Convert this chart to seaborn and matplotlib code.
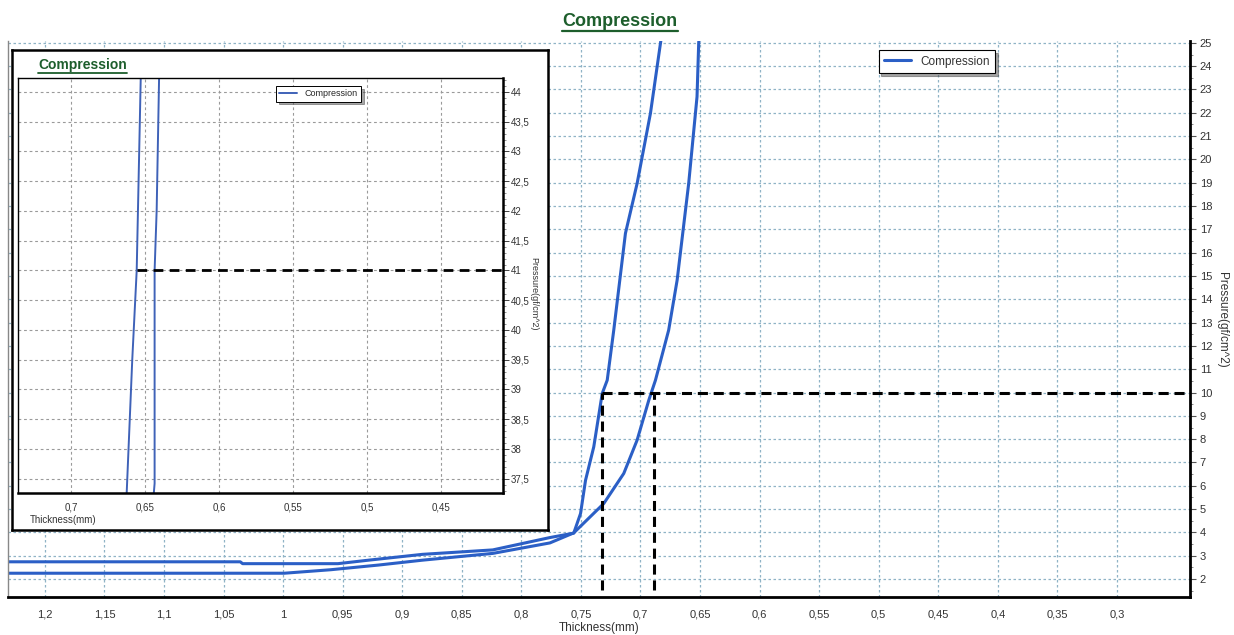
import numpy as np
import pandas as pd
import matplotlib
matplotlib.use("Agg")
import matplotlib.pyplot as plt
import seaborn as sns
from matplotlib.ticker import MultipleLocator, FixedLocator, FuncFormatter
from matplotlib.lines import Line2D

# ---------------- data ----------------
title = "Compression"
series_label = "Compression"
x_label = "Thickness(mm)"
y_label = "Pressure(gf/cm^2)"

# main chart: two branches of the compression curve (thickness mm, pressure gf/cm^2)
curve1_t = [1.235, 1.036, 1.034, 0.954, 0.930, 0.883, 0.824, 0.776, 0.756, 0.7503,
            0.7461, 0.7392, 0.7321, 0.7279, 0.7224, 0.7126, 0.7028, 0.6916, 0.6832, 0.680]
curve1_p = [2.74, 2.74, 2.66, 2.66, 2.80, 3.06, 3.25, 3.78, 3.97, 4.81,
            6.24, 7.67, 9.96, 10.53, 12.68, 16.83, 18.97, 21.98, 24.98, 26.0]
curve2_t = [1.235, 0.999, 0.960, 0.920, 0.883, 0.824, 0.776, 0.756, 0.7308, 0.714,
            0.7028, 0.693, 0.6874, 0.6763, 0.6692, 0.6595, 0.6525, 0.6511, 0.650]
curve2_p = [2.25, 2.25, 2.40, 2.60, 2.81, 3.10, 3.55, 3.98, 5.24, 6.53,
            7.96, 9.67, 10.53, 12.68, 14.82, 18.97, 22.69, 24.98, 26.0]

# tick values shown on the main chart
main_xticks = [1.2, 1.15, 1.1, 1.05, 1.0, 0.95, 0.9, 0.85, 0.8, 0.75, 0.7, 0.65,
               0.6, 0.55, 0.5, 0.45, 0.4, 0.35, 0.3]

# guide (dashed) lines on main chart
guide_p = 10.0
guide_t_left = 0.7321
guide_t_right = 0.6888
guide_p_bottom = 1.52

# inset (zoomed) chart
inset1_t = [0.6628, 0.6624, 0.6586, 0.6556, 0.6529, 0.6526]
inset1_p = [37.0, 37.24, 39.5, 41.0, 44.2, 44.5]
inset2_t = [0.6449, 0.6435, 0.6435, 0.6421, 0.6405, 0.6403]
inset2_p = [37.0, 37.42, 41.0, 42.02, 44.2, 44.5]
inset_guide_p = 41.0
inset_guide_t = 0.6556

main_xlim = (1.231, 0.2386)
main_ylim = (1.23, 25.08)
inset_xlim = (0.7358, 0.4081)
inset_ylim = (37.26, 44.235)

# ---------------- style ----------------
sns.set_style("white")
plt.rcParams["font.family"] = ["Liberation Sans", "DejaVu Sans"]

BLUE = "#2b5fc6"
GREEN = "#1d5e2c"
GRID = "#8fb3c6"
TXT = "#333333"

W, H = 1234, 635
fig = plt.figure(figsize=(W / 100, H / 100), dpi=100)


def fx(px):
    return px / W


def fy(py):
    return 1 - py / H


comma = FuncFormatter(lambda v, pos: ("%g" % round(v, 4)).replace(".", ","))

# ---------------- main axes ----------------
ax = fig.add_axes([fx(8), fy(597), fx(1190) - fx(8), fy(41) - fy(597)])
ax.set_zorder(0)
df1 = pd.DataFrame({"t": curve1_t, "p": curve1_p})
df2 = pd.DataFrame({"t": curve2_t, "p": curve2_p})
sns.lineplot(data=df1, x="t", y="p", sort=False, estimator=None, color=BLUE, lw=2.2, ax=ax)
sns.lineplot(data=df2, x="t", y="p", sort=False, estimator=None, color=BLUE, lw=2.2, ax=ax)

dash = (0, (3.3, 1.9))
ax.plot([guide_t_left, main_xlim[1]], [guide_p, guide_p], color="black", lw=2.2, ls=dash)
ax.plot([guide_t_left, guide_t_left], [guide_p_bottom, guide_p], color="black", lw=2.2, ls=dash)
ax.plot([guide_t_right, guide_t_right], [guide_p_bottom, guide_p], color="black", lw=2.2, ls=dash)

ax.set_xlim(*main_xlim)
ax.set_ylim(*main_ylim)
ax.xaxis.set_major_locator(FixedLocator(main_xticks))
ax.xaxis.set_minor_locator(MultipleLocator(0.025))
ax.yaxis.set_major_locator(MultipleLocator(1))
ax.yaxis.set_minor_locator(MultipleLocator(0.5))
ax.xaxis.set_major_formatter(comma)
ax.yaxis.tick_right()
ax.yaxis.set_label_position("right")
ax.tick_params(axis="both", which="major", direction="out", length=4, width=0.8,
               labelsize=8, labelcolor=TXT, color="#555555")
ax.tick_params(axis="both", which="minor", direction="out", length=2, width=0.6, color="#777777")
ax.tick_params(axis="x", pad=5)
ax.tick_params(axis="y", pad=3)
ax.grid(True, which="major", color=GRID, lw=0.9, ls=(0, (2, 2)))
ax.spines["top"].set_visible(False)
ax.spines["left"].set_color("#888888")
ax.spines["left"].set_linewidth(1.0)
ax.spines["right"].set_color("black")
ax.spines["right"].set_linewidth(2.0)
ax.spines["bottom"].set_color("black")
ax.spines["bottom"].set_linewidth(2.0)
ax.set_xlabel(x_label, fontsize=8.5, color=TXT)
ax.set_ylabel(y_label, fontsize=8.5, color=TXT, rotation=270, va="center", ha="center")
ax.xaxis.set_label_coords(0.5, -0.045)
ax.yaxis.set_label_coords(1.027, 0.498)

leg = ax.legend(handles=[Line2D([], [], color=BLUE, lw=2.2)], labels=[series_label],
                loc="center", bbox_to_anchor=(fx(937), fy(61.5)), bbox_transform=fig.transFigure,
                fontsize=8.5, frameon=True, fancybox=False, shadow=True, framealpha=1,
                edgecolor="black", handlelength=2.3, borderpad=0.45)
leg.get_frame().set_linewidth(0.8)
for t in leg.get_texts():
    t.set_color(TXT)

# ---------------- inset frame ----------------
frame = fig.add_axes([fx(12), fy(530), fx(548) - fx(12), fy(50) - fy(530)])
frame.set_zorder(5)
frame.set_facecolor("white")
frame.set_xticks([])
frame.set_yticks([])
for s in frame.spines.values():
    s.set_color("black")
    s.set_linewidth(1.8)

# ---------------- inset axes ----------------
ins = fig.add_axes([fx(18), fy(493), fx(503) - fx(18), fy(78) - fy(493)])
ins.set_zorder(6)
ins.set_facecolor("white")
di1 = pd.DataFrame({"t": inset1_t, "p": inset1_p})
di2 = pd.DataFrame({"t": inset2_t, "p": inset2_p})
sns.lineplot(data=di1, x="t", y="p", sort=False, estimator=None, color="#3f62b8", lw=1.4, ax=ins)
sns.lineplot(data=di2, x="t", y="p", sort=False, estimator=None, color="#3f62b8", lw=1.4, ax=ins)
ins.plot([inset_guide_t, inset_xlim[1]], [inset_guide_p, inset_guide_p], color="black",
         lw=2.0, ls=(0, (3.5, 2.3)))
ins.set_xlim(*inset_xlim)
ins.set_ylim(*inset_ylim)
ins.xaxis.set_major_locator(MultipleLocator(0.05))
ins.xaxis.set_minor_locator(MultipleLocator(0.025))
ins.yaxis.set_major_locator(MultipleLocator(0.5))
ins.yaxis.set_minor_locator(MultipleLocator(0.1))
ins.xaxis.set_major_formatter(comma)
ins.yaxis.set_major_formatter(comma)
ins.yaxis.tick_right()
ins.tick_params(axis="both", which="major", direction="out", length=4, width=0.7,
                labelsize=7, labelcolor=TXT, color="#444444")
ins.tick_params(axis="both", which="minor", direction="out", length=2, width=0.5, color="#666666")
ins.tick_params(axis="x", pad=3)
ins.tick_params(axis="y", pad=1.5)
ins.grid(True, which="major", color="#9a9a9a", lw=0.8, ls=(0, (2.5, 2.5)))
for s in ins.spines.values():
    s.set_color("black")
    s.set_linewidth(1.0)
ins.spines["bottom"].set_linewidth(1.8)
ins.spines["right"].set_linewidth(1.8)
ins.set_xlabel("")
ins.set_ylabel(y_label, fontsize=6.5, color=TXT, rotation=270, va="center", ha="center")
ins.yaxis.set_label_position("right")
ins.yaxis.set_label_coords(1.072, 0.48)

ileg = ins.legend(handles=[Line2D([], [], color="#3f62b8", lw=1.4)], labels=[series_label],
                  loc="center", bbox_to_anchor=(fx(318.5), fy(94)), bbox_transform=fig.transFigure,
                  fontsize=6.5, frameon=True, fancybox=False, shadow=True, framealpha=1,
                  edgecolor="black", handlelength=2.0, borderpad=0.35)
ileg.get_frame().set_linewidth(0.7)

inset_xlab = fig.text(fx(30), fy(520), x_label, fontsize=7, color=TXT, ha="left", va="center", zorder=7)

# ---------------- titles (underlined) ----------------
t_main = fig.text(fx(620), fy(22), title, fontsize=13, fontweight="bold", color=GREEN,
                  ha="center", va="center")
t_ins = fig.text(fx(38), fy(65), title, fontsize=10, fontweight="bold", color=GREEN,
                 ha="left", va="center", zorder=7)

fig.canvas.draw()
r = fig.canvas.get_renderer()
inv = fig.transFigure.inverted()
for txt, lw in [(t_main, 1.6), (t_ins, 1.3)]:
    bb = txt.get_window_extent(renderer=r)
    (x0, y0), (x1, _) = inv.transform([(bb.x0, bb.y0), (bb.x1, bb.y0)])
    fig.add_artist(Line2D([x0, x1], [y0 - 0.001, y0 - 0.001], transform=fig.transFigure,
                          color=GREEN, lw=lw, zorder=8))

fig.savefig("out.png", dpi=100)
